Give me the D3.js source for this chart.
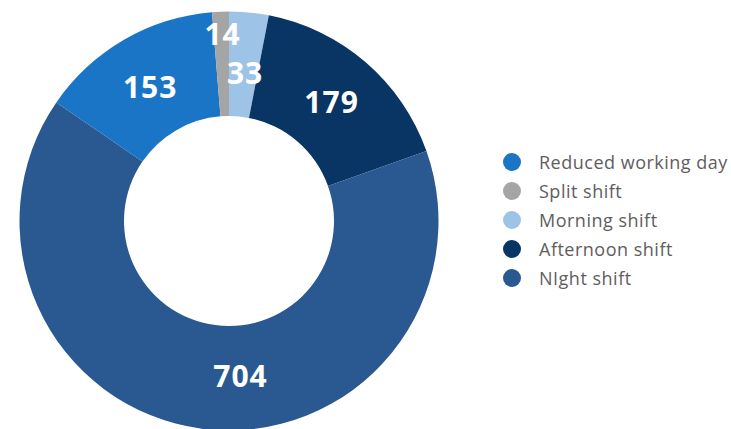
<!DOCTYPE html>
<html>
<head>
<meta charset="utf-8">
<script src="https://cdn.jsdelivr.net/npm/d3@7"></script>
<style>
  html, body { margin: 0; padding: 0; background: #fff; }
  svg { display: block; }
</style>
</head>
<body>
<svg id="chart" width="731" height="429"></svg>
<script>
// Shift types, clockwise from 12 o'clock
const categories = ["Morning shift", "Afternoon shift", "NIght shift", "Reduced working day", "Split shift"];
const values = [33, 179, 704, 153, 14];
const colors = ["#9dc3e6", "#083563", "#2a5891", "#1b75c6", "#a5a5a5"];
// Legend order
const legendOrder = ["Reduced working day", "Split shift", "Morning shift", "Afternoon shift", "NIght shift"];

const svg = d3.select("#chart");
const cx = 229, cy = 221, outerR = 209.5, innerR = 105;

const color = d3.scaleOrdinal().domain(categories).range(colors);
const data = categories.map((c, i) => ({ name: c, value: values[i] }));

const pie = d3.pie().value(d => d.value).sort(null);
const arc = d3.arc().innerRadius(innerR).outerRadius(outerR);
const arcs = pie(data);

const g = svg.append("g").attr("transform", `translate(${cx},${cy})`);

g.selectAll("path.slice")
  .data(arcs)
  .join("path")
  .attr("class", "slice")
  .attr("d", arc)
  .attr("fill", d => color(d.data.name));

// value labels sit at the slice centroid; small slices / the big one get nudged
const nudge = { "Split shift": [0, -30], "NIght shift": [32, -1], "Morning shift": [1, 8], "Reduced working day": [0, 2] };
g.selectAll("text.val")
  .data(arcs)
  .join("text")
  .attr("class", "val")
  .attr("x", d => arc.centroid(d)[0] + (nudge[d.data.name] || [0, 0])[0])
  .attr("y", d => arc.centroid(d)[1] + (nudge[d.data.name] || [0, 0])[1])
  .attr("text-anchor", "middle")
  .attr("dominant-baseline", "central")
  .attr("fill", "#ffffff")
  .attr("font-family", "'Open Sans', sans-serif")
  .attr("font-weight", 700)
  .attr("font-size", 30)
  .attr("letter-spacing", 1)
  .text(d => d.data.value);

// legend
const ly = d3.scalePoint().domain(legendOrder).range([162, 278]);
const legend = svg.append("g");
const items = legend.selectAll("g")
  .data(legendOrder)
  .join("g")
  .attr("transform", d => `translate(512,${ly(d)})`);
items.append("circle").attr("r", 9).attr("fill", d => color(d));
items.append("text")
  .attr("x", 27)
  .attr("dominant-baseline", "central")
  .attr("fill", "#5e5e5e")
  .attr("font-family", "'Open Sans', sans-serif")
  .attr("font-size", 18)
  .attr("letter-spacing", 0.5)
  .text(d => d);
</script>
</body>
</html>
